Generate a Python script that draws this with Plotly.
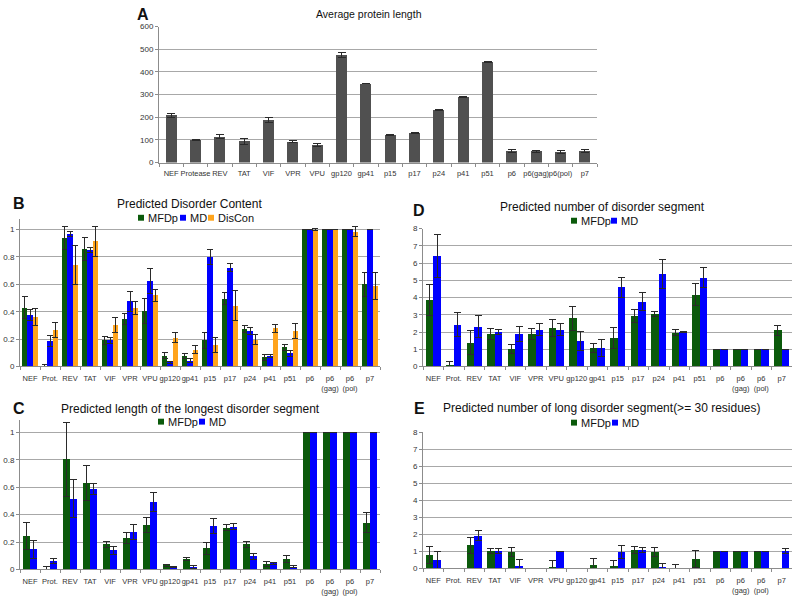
import plotly.graph_objects as go

W, H = 793, 601
def px(x): return x / W
def py(y): return 1 - y / H

# ---------------- data ----------------
proteins_a = ["NEF", "Protease", "REV", "TAT", "VIF", "VPR", "VPU", "gp120", "gp41", "p15",
              "p17", "p24", "p41", "p51", "p6", "p6(gag)", "p6(pol)", "p7"]
avg_len = [208, 100, 115, 94, 189, 93, 77, 475, 349, 121, 131, 232, 289, 443, 51, 49, 47, 51]
avg_len_err = [8, 2, 8, 12, 12, 6, 6, 10, 2, 2, 2, 2, 3, 2, 8, 4, 6, 8]

proteins = ["NEF", "Prot.", "REV", "TAT", "VIF", "VPR", "VPU", "gp120", "gp41", "p15",
            "p17", "p24", "p41", "p51", "p6", "p6<br>(gag)", "p6<br>(pol)", "p7"]

# B: predicted disorder content
b_mfdp = [0.43, 0.003, 0.94, 0.856, 0.19, 0.35, 0.405, 0.08, 0.075, 0.19, 0.496, 0.276, 0.067, 0.139, 1, 1, 1, 0.60]
b_mfdp_err = [0.08, 0.015, 0.085, 0.085, 0.03, 0.04, 0.09, 0.02, 0.02, 0.055, 0.045, 0.025, 0.02, 0.025, 0, 0, 0, 0.087]
b_md = [0.377, 0.185, 0.966, 0.85, 0.19, 0.475, 0.624, 0.03, 0.043, 0.80, 0.722, 0.257, 0.079, 0.096, 1, 1, 1, 1]
b_md_err = [0.04, 0.04, 0.02, 0.02, 0.02, 0.075, 0.09, 0.005, 0.015, 0.055, 0.03, 0.025, 0.01, 0.02, 0, 0, 0, 0]
b_discon = [0.36, 0.264, 0.74, 0.916, 0.30, 0.427, 0.52, 0.21, 0.122, 0.16, 0.444, 0.197, 0.28, 0.257, 1, 1, 0.985, 0.59]
b_discon_err = [0.06, 0.055, 0.14, 0.11, 0.055, 0.045, 0.045, 0.035, 0.028, 0.055, 0.11, 0.04, 0.03, 0.055, 0.005, 0.003, 0.035, 0.098]

# C: predicted length of the longest disorder segment
c_mfdp = [0.246, 0.003, 0.806, 0.63, 0.182, 0.227, 0.323, 0.031, 0.074, 0.155, 0.306, 0.182, 0.041, 0.079, 1, 1, 1, 0.342]
c_mfdp_err = [0.098, 0.015, 0.27, 0.13, 0.025, 0.04, 0.055, 0.008, 0.01, 0.045, 0.022, 0.025, 0.02, 0.025, 0, 0, 0, 0.072]
c_md = [0.148, 0.06, 0.517, 0.586, 0.139, 0.273, 0.493, 0.017, 0.017, 0.316, 0.313, 0.096, 0.045, 0.019, 1, 1, 1, 1]
c_md_err = [0.065, 0.02, 0.14, 0.04, 0.03, 0.055, 0.07, 0.004, 0.01, 0.055, 0.022, 0.02, 0.008, 0.006, 0, 0, 0, 0]

# D: predicted number of disorder segment
d_mfdp = [3.83, 0.08, 1.38, 1.88, 0.99, 1.88, 2.22, 2.79, 1.06, 1.67, 2.92, 3.03, 1.95, 4.17, 1, 1, 1, 2.09]
d_mfdp_err = [0.9, 0.2, 0.7, 0.33, 0.26, 0.33, 0.5, 0.7, 0.25, 0.62, 0.36, 0.15, 0.17, 0.62, 0, 0, 0, 0.28]
d_md = [6.39, 2.43, 2.31, 2.0, 1.88, 2.14, 2.14, 1.46, 1.06, 4.59, 3.77, 5.35, 1.99, 5.16, 1, 1, 1, 1]
d_md_err = [1.25, 0.7, 0.65, 0.15, 0.42, 0.35, 0.35, 0.55, 0.5, 0.56, 0.5, 0.83, 0.03, 0.56, 0, 0, 0, 0]

# E: predicted number of long disorder segment (>=30 residues)
e_mfdp = [0.77, 0, 1.35, 1.0, 0.96, 0, 0.08, 0, 0.21, 0.15, 1.08, 0.96, 0, 0.58, 1, 1, 1, 0]
e_mfdp_err = [0.5, 0, 0.45, 0.15, 0.27, 0, 0.37, 0, 0.37, 0.3, 0.2, 0.27, 0.23, 0.5, 0, 0, 0, 0]
e_md = [0.5, 0, 1.93, 1.0, 0.13, 0, 1.0, 0, 0, 0.96, 1.08, 0.08, 0, 0, 1, 1, 1, 1.0]
e_md_err = [0.5, 0, 0.3, 0.15, 0.4, 0, 0, 0, 0, 0.4, 0.15, 0.2, 0, 0, 0, 0, 0, 0.15]

# ---------------- style ----------------
GREEN = "#0b5a0b"
BLUE = "#0000ff"
ORANGE = "#ffa41c"
GRAY_BAR = "#505050"
FONT = "Liberation Sans, Arial, sans-serif"
ERRC = "#2a2a2a"

fig = go.Figure()

def add_bar(xs, ys, errs, color, xa, ya, width, offset, capw):
    fig.add_trace(go.Bar(
        x=xs, y=ys, marker=dict(color=color, line=dict(width=0)),
        width=width, offset=offset, xaxis=xa, yaxis=ya, showlegend=False,
        error_y=dict(type="data", array=errs, visible=True, color=ERRC, thickness=1, width=capw),
    ))

# A
add_bar(proteins_a, avg_len, avg_len_err, GRAY_BAR, "x", "y", 0.44, -0.22, 4)
# B
wb = 0.27
add_bar(proteins, b_mfdp, b_mfdp_err, GREEN, "x2", "y2", wb, -1.5 * wb, 3)
add_bar(proteins, b_md, b_md_err, BLUE, "x2", "y2", wb, -0.5 * wb, 3)
add_bar(proteins, b_discon, b_discon_err, ORANGE, "x2", "y2", wb, 0.5 * wb, 3)
# C
wc = 0.37
add_bar(proteins, c_mfdp, c_mfdp_err, GREEN, "x3", "y3", wc, -wc, 3.5)
add_bar(proteins, c_md, c_md_err, BLUE, "x3", "y3", wc, 0, 3.5)
# D
add_bar(proteins, d_mfdp, d_mfdp_err, GREEN, "x4", "y4", wc, -wc, 3.5)
add_bar(proteins, d_md, d_md_err, BLUE, "x4", "y4", wc, 0, 3.5)
# E
add_bar(proteins, e_mfdp, e_mfdp_err, GREEN, "x5", "y5", wc, -wc, 3.5)
add_bar(proteins, e_md, e_md_err, BLUE, "x5", "y5", wc, 0, 3.5)

xtickfont = dict(family=FONT, size=7.5, color="#333")
ytickfont = dict(family=FONT, size=8, color="#333")

def xaxis(x0, x1, anchor, standoff):
    return dict(domain=[px(x0), px(x1)], anchor=anchor, type="category",
                range=[-0.5, 17.5], autorange=False,
                showline=True, linecolor="#8c8c8c", linewidth=1,
                ticks="outside", tickson="boundaries", ticklen=3, tickcolor="#8c8c8c",
                ticklabelstandoff=standoff,
                tickfont=xtickfont, showgrid=False, tickangle=0, fixedrange=True)

def yaxis(y_bottom, y_top, rng, dtick, anchor):
    return dict(domain=[py(y_bottom), py(y_top)], anchor=anchor, range=rng, dtick=dtick,
                autorange=False,
                showline=True, linecolor="#8c8c8c", linewidth=1,
                ticks="outside", ticklen=3, tickcolor="#8c8c8c",
                showgrid=True, gridcolor="#a8a8a8", gridwidth=1, zeroline=False,
                tickfont=ytickfont, fixedrange=True)

layout = dict(
    width=W, height=H, autosize=False,
    margin=dict(l=0, r=0, t=0, b=0),
    paper_bgcolor="white", plot_bgcolor="white",
    barmode="overlay", bargap=0,
    font=dict(family=FONT, color="#222"),
    xaxis=xaxis(159, 597, "y", 3),
    yaxis=yaxis(161, 23, [0, 600], 100, "x"),
    xaxis2=xaxis(20, 380, "y2", 5),
    yaxis2=yaxis(368, 368 - 1.08 * 139, [0, 1.08], 0.2, "x2"),
    xaxis3=xaxis(20, 380, "y3", 5),
    yaxis3=yaxis(574, 574 - 1.09 * 139, [0, 1.09], 0.2, "x3"),
    xaxis4=xaxis(423, 792, "y4", 5),
    yaxis4=yaxis(368, 228, [0, 8], 1, "x4"),
    xaxis5=xaxis(423, 792, "y5", 5),
    yaxis5=yaxis(573, 435, [0, 8], 1, "x5"),
)
fig.update_layout(**layout)

ann = []
def text(x, y, s, size, bold=False, xanchor="center"):
    ann.append(dict(x=px(x), y=py(y), xref="paper", yref="paper", text=(f"<b>{s}</b>" if bold else s),
                    showarrow=False, xanchor=xanchor, yanchor="middle",
                    font=dict(family=FONT, size=size, color="#111")))

# panel letters
text(143, 11, "A", 16, True)
text(19, 203, "B", 16, True)
text(19, 411, "C", 16, True)
text(419, 210, "D", 16, True)
text(419, 411, "E", 16, True)

# titles
text(369, 10, "Average protein length", 10.5)
text(189, 203, "Predicted Disorder Content", 12)
text(190, 411, "Predicted length of the longest disorder segment", 12)
text(602, 206, "Predicted number of disorder segment", 12)
text(602, 410, "Predicted number of long disorder segment(>= 30 residues)", 12)

shapes = []
def legend_item(x, y, color, label):
    shapes.append(dict(type="rect", xref="paper", yref="paper",
                       x0=px(x), x1=px(x + 6), y0=py(y + 3), y1=py(y - 3),
                       fillcolor=color, line=dict(width=0)))
    text(x + 8, y, label, 11, xanchor="left")

# legend B
legend_item(138, 217, GREEN, "MFDp")
legend_item(180, 217, BLUE, "MD")
legend_item(208, 217, ORANGE, "DisCon")
# legend C
legend_item(158, 424, GREEN, "MFDp")
legend_item(199, 424, BLUE, "MD")
# legend D
legend_item(571, 220, GREEN, "MFDp")
legend_item(611, 220, BLUE, "MD")
# legend E
legend_item(571, 425, GREEN, "MFDp")
legend_item(612, 425, BLUE, "MD")

fig.update_layout(annotations=ann, shapes=shapes)
fig.write_html("out.html", config={"displayModeBar": False, "staticPlot": True},
               post_script="document.body.style.margin='0px';document.body.style.overflow='hidden';")
